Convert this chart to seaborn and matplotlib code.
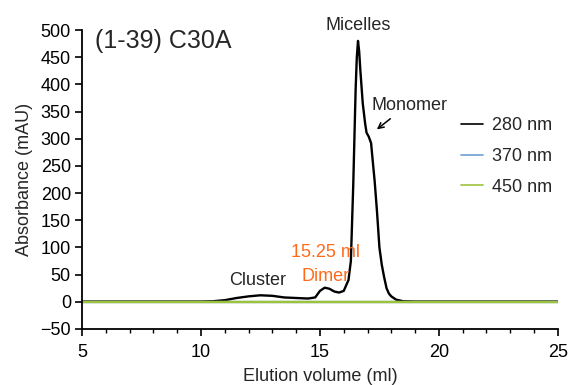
import matplotlib
matplotlib.use("Agg")
import matplotlib.pyplot as plt
import seaborn as sns
import pandas as pd
from matplotlib.ticker import MultipleLocator

# Elution profile (ml) and absorbance (mAU) at 280 nm
volume_280 = [5, 6, 7, 8, 9, 10, 10.5, 11, 11.5, 12, 12.5, 13, 13.5, 14, 14.5,
              14.8, 15.0, 15.2, 15.4, 15.6, 15.8, 16.0, 16.1, 16.2, 16.3, 16.4,
              16.5, 16.55, 16.6, 16.65, 16.7, 16.8, 16.9, 16.96, 17.05, 17.15,
              17.2, 17.3, 17.4, 17.5, 17.6, 17.7, 17.8, 17.9, 18.0, 18.2, 18.5,
              19, 20, 21, 22, 23, 24, 25]
abs_280 = [0.5, 0.5, 0.5, 0.5, 0.5, 0.5, 1, 3, 7, 10, 12, 11, 8, 7, 6,
           8, 20, 26, 24, 19, 17, 20, 30, 40, 75, 215,
           390, 450, 480, 460, 425, 365, 328, 311, 304, 292,
           268, 222, 165, 100, 68, 45, 25, 15, 10, 4, 1,
           0.5, 0.5, 0.5, 0.5, 0.5, 0.5, 0.5]

# 370 nm and 450 nm traces stay flat at the baseline
volume_370 = [5, 10, 15, 20, 25]
abs_370 = [0, 0, 0, 0, 0]
volume_450 = [5, 10, 15, 20, 25]
abs_450 = [0, 0, 0, 0, 0]

wavelengths = ["280 nm", "370 nm", "450 nm"]
colors = ["#000000", "#6d9fd2", "#9cc23e"]

df = pd.concat([
    pd.DataFrame({"volume": volume_280, "abs": abs_280, "wl": wavelengths[0]}),
    pd.DataFrame({"volume": volume_370, "abs": abs_370, "wl": wavelengths[1]}),
    pd.DataFrame({"volume": volume_450, "abs": abs_450, "wl": wavelengths[2]}),
])

sns.set_style("ticks")
plt.rcParams["font.family"] = ["Liberation Sans", "DejaVu Sans"]

fig = plt.figure(figsize=(5.71, 3.85), dpi=100)
ax = fig.add_axes([0.1436, 0.1455, 0.977 - 0.1436, 0.922 - 0.1455])

sns.lineplot(data=df, x="volume", y="abs", hue="wl", palette=colors,
             hue_order=wavelengths, linewidth=1.7, sort=False, ax=ax)

ax.set_xlim(5, 25)
ax.set_ylim(-50, 500)
ax.xaxis.set_major_locator(MultipleLocator(5))
ax.xaxis.set_minor_locator(MultipleLocator(1))
ax.yaxis.set_major_locator(MultipleLocator(50))
ax.tick_params(axis="both", which="major", labelsize=13, length=5, width=1.2,
               color="black", labelcolor="black", pad=3)
ax.tick_params(axis="x", which="minor", length=3, width=1.0, color="black")
ax.tick_params(axis="x", which="major", pad=6)
for side in ("left", "bottom"):
    ax.spines[side].set_linewidth(1.3)
    ax.spines[side].set_color("black")
sns.despine(ax=ax)

ax.set_xlabel("Elution volume (ml)", fontsize=13, labelpad=5)
ax.set_ylabel("Absorbance (mAU)", fontsize=13, labelpad=5)

leg = ax.legend(frameon=False, fontsize=13, loc="upper left",
                bbox_to_anchor=(0.762, 0.762), handlelength=1.2,
                handletextpad=0.5, labelspacing=0.75)
for h in leg.get_lines():
    h.set_linewidth(1.2)

ax.text(5.55, 479, "(1-39) C30A", fontsize=18, va="center", ha="left")
ax.text(16.6, 508, "Micelles", fontsize=13, ha="center", va="center")
ax.text(17.18, 361, "Monomer", fontsize=13, ha="left", va="center")
ax.annotate("", xy=(17.3, 314), xytext=(18.05, 340),
            arrowprops=dict(arrowstyle="->", color="black", lw=1.1))
ax.text(12.4, 40, "Cluster", fontsize=13, ha="center", va="center")
ax.text(15.25, 90, "15.25 ml", fontsize=13, ha="center", va="center",
        color="#ff6a1a")
ax.text(15.25, 46, "Dimer", fontsize=13, ha="center", va="center",
        color="#ff6a1a")

fig.savefig("out.png", dpi=100)
